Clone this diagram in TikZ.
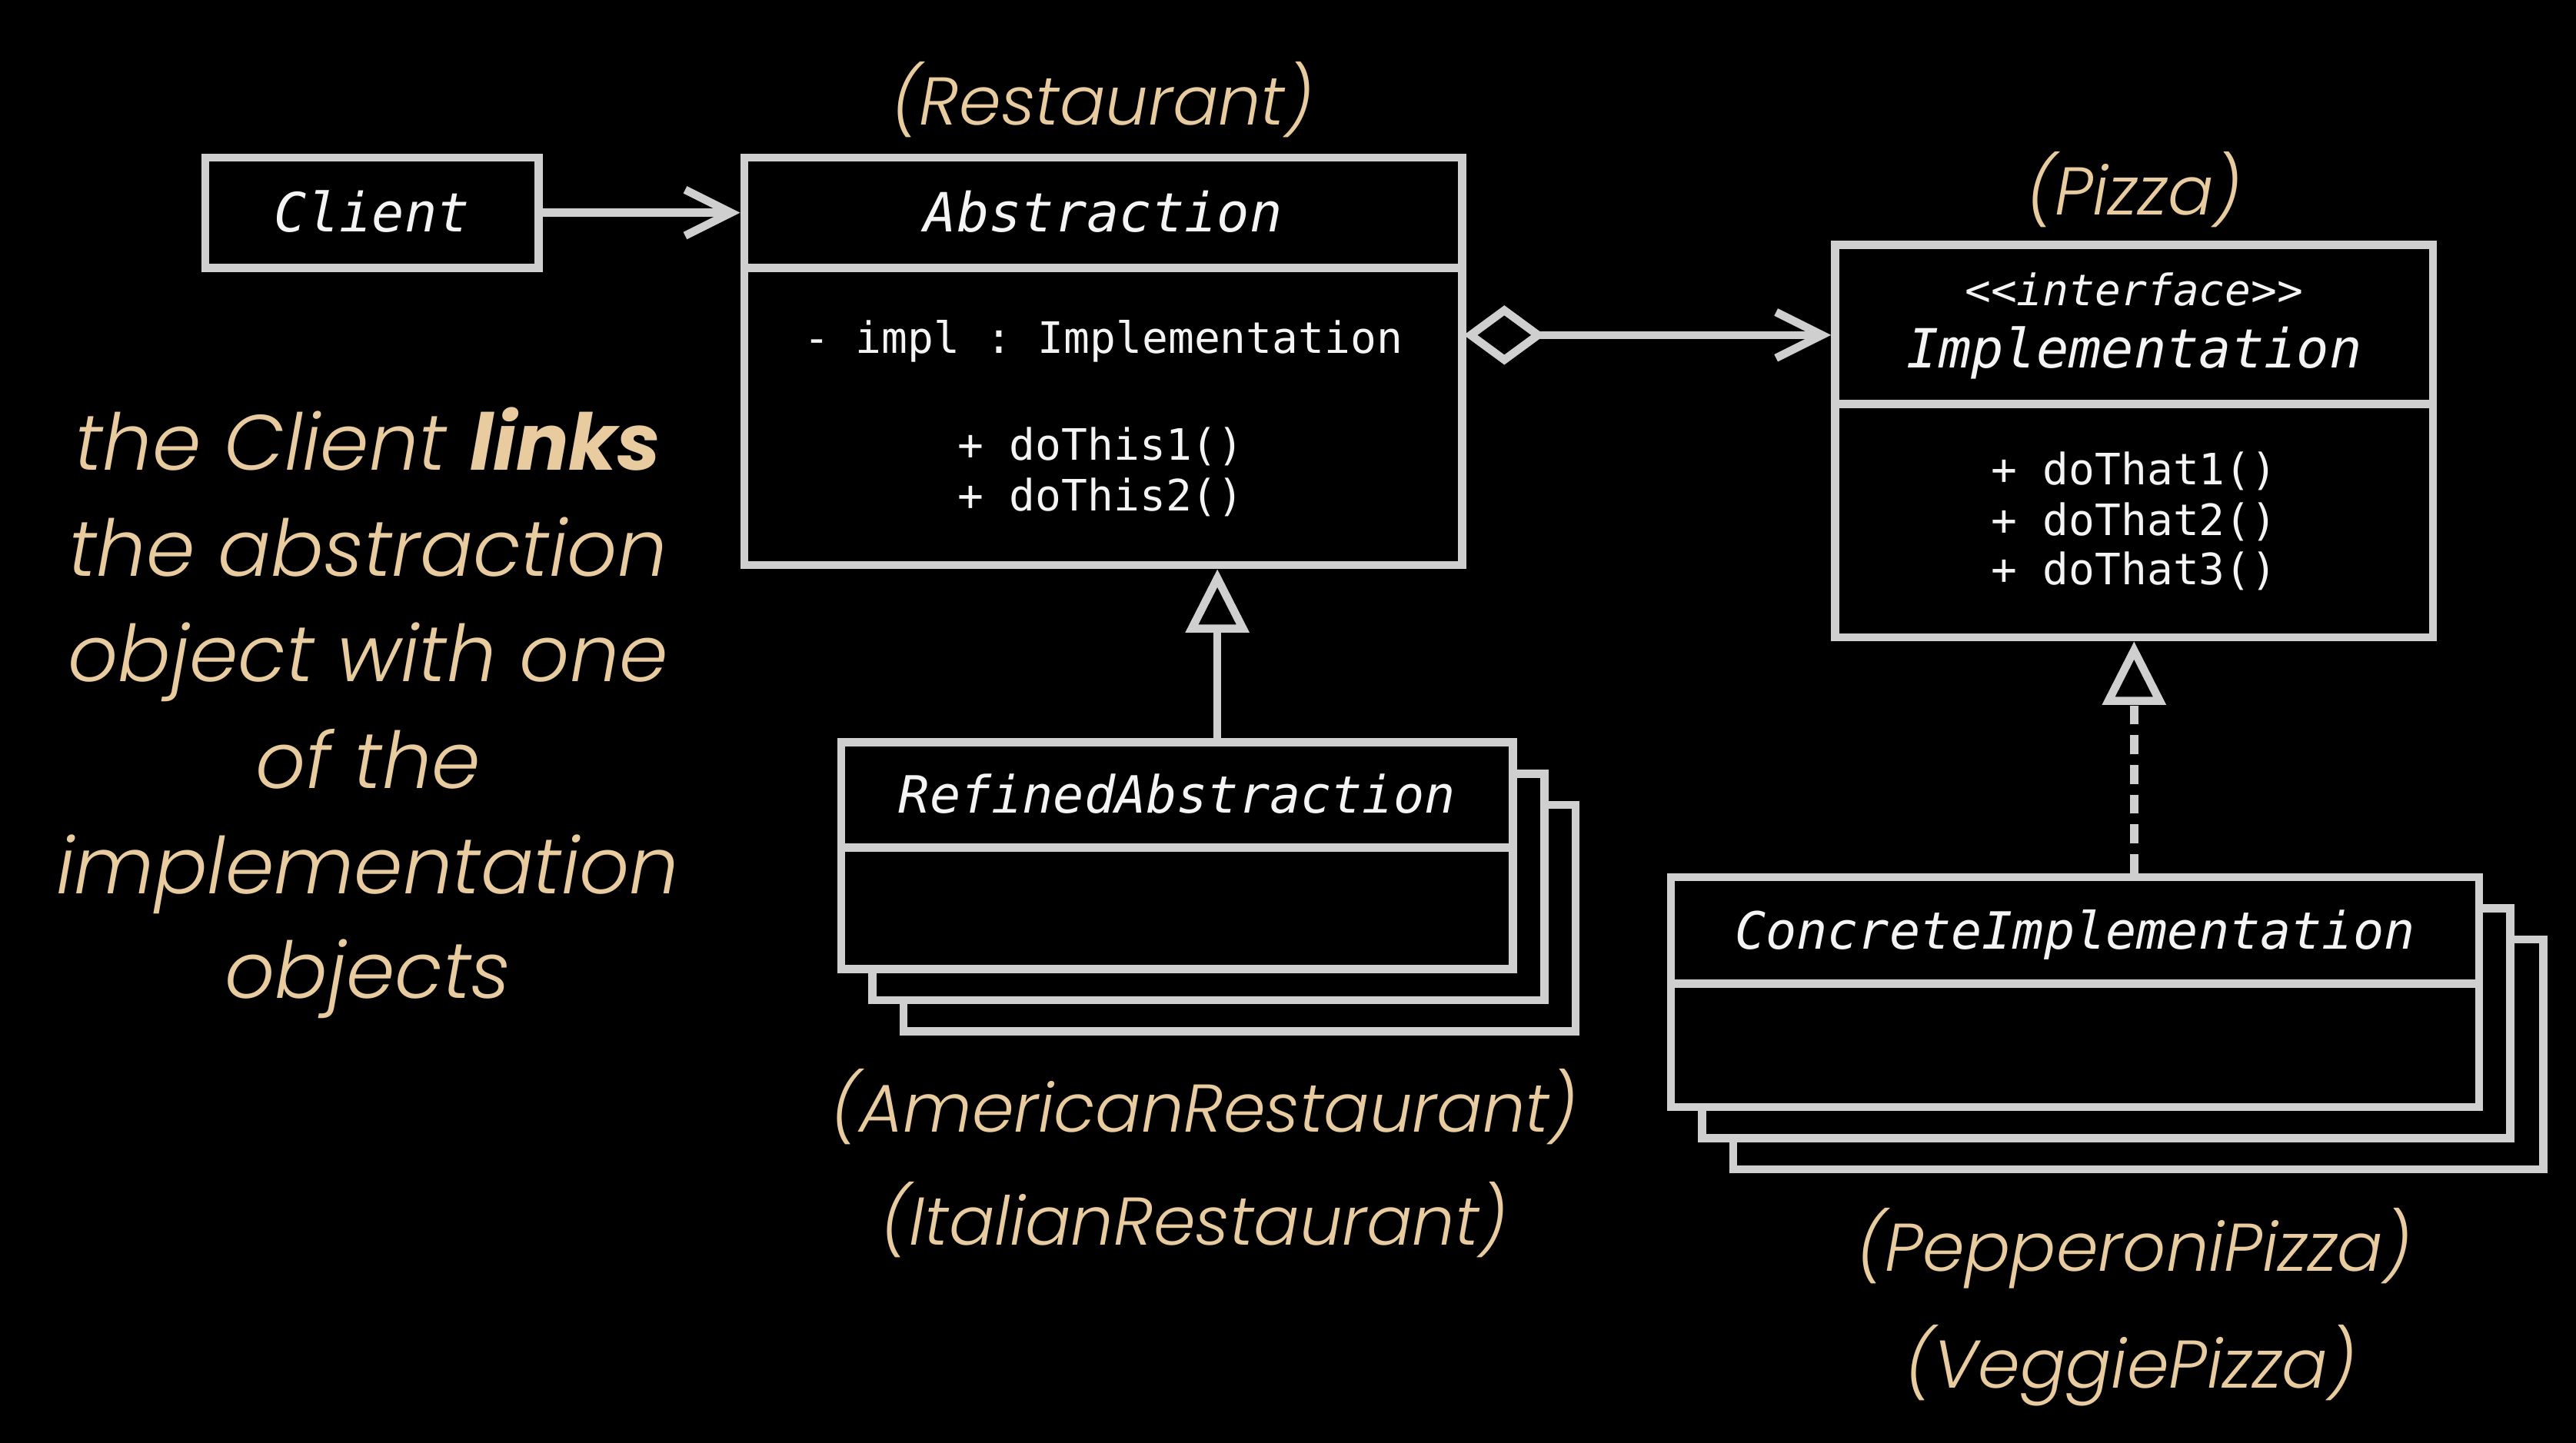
\documentclass[tikz,border=0pt]{standalone}
\usepackage{fontspec}
\setmonofont{DejaVu Sans Mono}
\newfontfamily\tanfont{Poppins Light}[ItalicFont={Poppins Light Italic}, BoldItalicFont={Poppins Bold Italic}, BoldFont={Poppins Bold}]
\usetikzlibrary{arrows.meta,fit}
\definecolor{ln}{HTML}{CFCFCF}
\definecolor{tanc}{HTML}{E8CB9E}
\definecolor{txt}{HTML}{F4F4F4}
\begin{document}
\begin{tikzpicture}[x=0.021365cm,y=-0.021365cm,
  box/.style={draw=ln, line width=3pt, fill=black, inner sep=0pt},
  conn/.style={draw=ln, line width=3pt},
  divider/.style={draw=ln, line width=3pt},
  title/.style={text=txt, font=\ttfamily\itshape\fontsize{20}{24}\selectfont, anchor=base, inner sep=0pt},
  member/.style={text=txt, font=\ttfamily\fontsize{16}{19}\selectfont, anchor=base, inner sep=0pt},
  stereo/.style={text=txt, font=\ttfamily\itshape\fontsize{16}{19}\selectfont, anchor=base, inner sep=0pt},
  lbl/.style={text=tanc, font=\tanfont\itshape\fontsize{25}{30}\selectfont, anchor=base, inner sep=0pt},
  note/.style={text=tanc, font=\tanfont\itshape\fontsize{29}{35}\selectfont, anchor=base, inner sep=0pt},
  vhead/.style={-{Straight Barb[length=17pt,width=17pt]}},
]
\fill[black] (0,0) rectangle (1568,878.5);
\useasboundingbox (0,0) rectangle (1568,878.5);

% Client
\node[box, fit={(125,96) (328,163)}] (client) {};
\node[title] (clientT) at (226.5,141) {Client};

% Abstraction
\node[box, fit={(453,96) (890,344)}] (abs) {};
\draw[divider] (453,163) -- (890,163);
\node[title] (absT) at (671.5,141) {Abstraction};
\node[member] (absM1) at (671.5,215) {- impl : Implementation};
\node[member] (absM2) at (670,280) {+ doThis1()};
\node[member] (absM3) at (670,311) {+ doThis2()};
\node[lbl] (absL) at (671,76) {(Restaurant)};

% Implementation
\node[box, fit={(1117,149) (1481,388)}] (impl) {};
\draw[divider] (1117,246) -- (1481,246);
\node[stereo] (implS) at (1299,186) {<<interface>>};
\node[title] (implT) at (1299,224) {Implementation};
\node[member] (implM1) at (1299,295) {+ doThat1()};
\node[member] (implM2) at (1299,326) {+ doThat2()};
\node[member] (implM3) at (1299,356) {+ doThat3()};
\node[lbl] (implL) at (1299,131) {(Pizza)};

% RefinedAbstraction stack
\node[box, fit={(550,490) (959,628)}] (ref3) {};
\node[box, fit={(531,471) (940,609)}] (ref2) {};
\node[box, fit={(512,452) (921,590)}] (ref) {};
\draw[divider] (512,516) -- (921,516);
\node[title, font=\ttfamily\itshape\fontsize{19}{23}\selectfont] (refT) at (716.5,495) {RefinedAbstraction};
\node[lbl] (refL1) at (733,689) {(AmericanRestaurant)};
\node[lbl] (refL2) at (727,758) {(ItalianRestaurant)};

% ConcreteImplementation stack
\node[box, fit={(1055,572) (1548,712)}] (con3) {};
\node[box, fit={(1036,553) (1528,693)}] (con2) {};
\node[box, fit={(1017,534) (1509,674)}] (con) {};
\draw[divider] (1017,599) -- (1509,599);
\node[title, font=\ttfamily\itshape\fontsize{19}{23}\selectfont] (conT) at (1263,578) {ConcreteImplementation};
\node[lbl] (conL1) at (1299,774) {(PepperoniPizza)};
\node[lbl] (conL2) at (1297,845) {(VeggiePizza)};

% Connectors
\draw[conn, vhead] (client.east) -- (client.east -| abs.west);
\coordinate (agg) at (891,204);
\draw[conn, {Diamond[open,length=30pt,width=22pt]}-{Straight Barb[length=17pt,width=17pt]}] (agg) -- (agg -| impl.west);
\coordinate (refTop) at (741,452);
\draw[conn, -{Triangle[open,length=23.5pt,width=23pt]}] (refTop) -- (refTop |- abs.south);
\draw[conn, dash pattern=on 7pt off 4pt, -{Triangle[open,length=23.5pt,width=23pt]}] (impl.south |- con.north) -- (impl.south);

% Note text
\node[note] (n1) at (224,286) {the Client \textbf{links}};
\node[note] (n2) at (224,351) {the abstraction};
\node[note] (n3) at (224,415) {object with one};
\node[note] (n4) at (224,480) {of the};
\node[note] (n5) at (224,544) {implementation};
\node[note] (n6) at (224,608) {objects};
\end{tikzpicture}
\end{document}
